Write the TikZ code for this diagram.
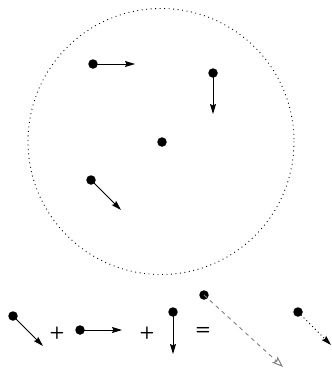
\documentclass[tikz,border=0pt]{standalone}
\usetikzlibrary{arrows.meta}
\tikzset{
  dotnode/.style={circle,fill=black,inner sep=0pt,minimum size=9.5pt},
  vec/.style={line width=0.9pt,-{Stealth[length=10pt,width=6pt,inset=1.5pt]}},
  sumvec/.style={line width=0.9pt,gray,dash pattern=on 4pt off 4pt,-{Stealth[open,length=11pt,width=8pt,inset=2pt,line width=1pt]}},
  avgvec/.style={line width=0.9pt,dash pattern=on 1pt off 3pt,-{Stealth[length=10pt,width=6pt,inset=1.5pt]}},
  opsym/.style={font=\LARGE\bfseries\sffamily,inner sep=0pt}
}
\begin{document}
\begin{tikzpicture}[x=1pt,y=-1pt]
\useasboundingbox (0,0) rectangle (332,370);
% circle
\draw[line width=0.9pt,dash pattern=on 0.9pt off 3.6pt] (161,141.5) circle[radius=133];
% particles inside
\node[dotnode] (p1) at (93,64) {};
\coordinate (e1) at (135,64);
\node[dotnode] (p2) at (213,73) {};
\coordinate (e2) at (213,114);
\node[dotnode] (c) at (162,142) {};
\node[dotnode] (p3) at (91,180) {};
\coordinate (e3) at (121,210);
\draw[vec] (p1.center) -- (e1);
\draw[vec] (p2.center) -- (e2);
\draw[vec] (p3.center) -- (e3);
% sum below
\node[dotnode] (q1) at (13,316) {};
\coordinate (f1) at (43,346);
\draw[vec] (q1.center) -- (f1);
\node[opsym] (plus1) at (57,333) {+};
\node[dotnode] (q2) at (80,330) {};
\coordinate (f2) at (122,330);
\draw[vec] (q2.center) -- (f2);
\node[opsym] (plus2) at (147,333) {+};
\node[dotnode] (q3) at (173,312) {};
\coordinate (f3) at (173,354);
\draw[vec] (q3.center) -- (f3);
\node[opsym] (eq) at (203,331) {=};
\node[dotnode] (q4) at (204,295) {};
\coordinate (f4) at (283,367);
\draw[sumvec] (q4.center) -- (f4);
\node[dotnode] (q5) at (298,312) {};
\coordinate (f5) at (331,345);
\draw[avgvec] (q5.center) -- (f5);
\end{tikzpicture}
\end{document}
